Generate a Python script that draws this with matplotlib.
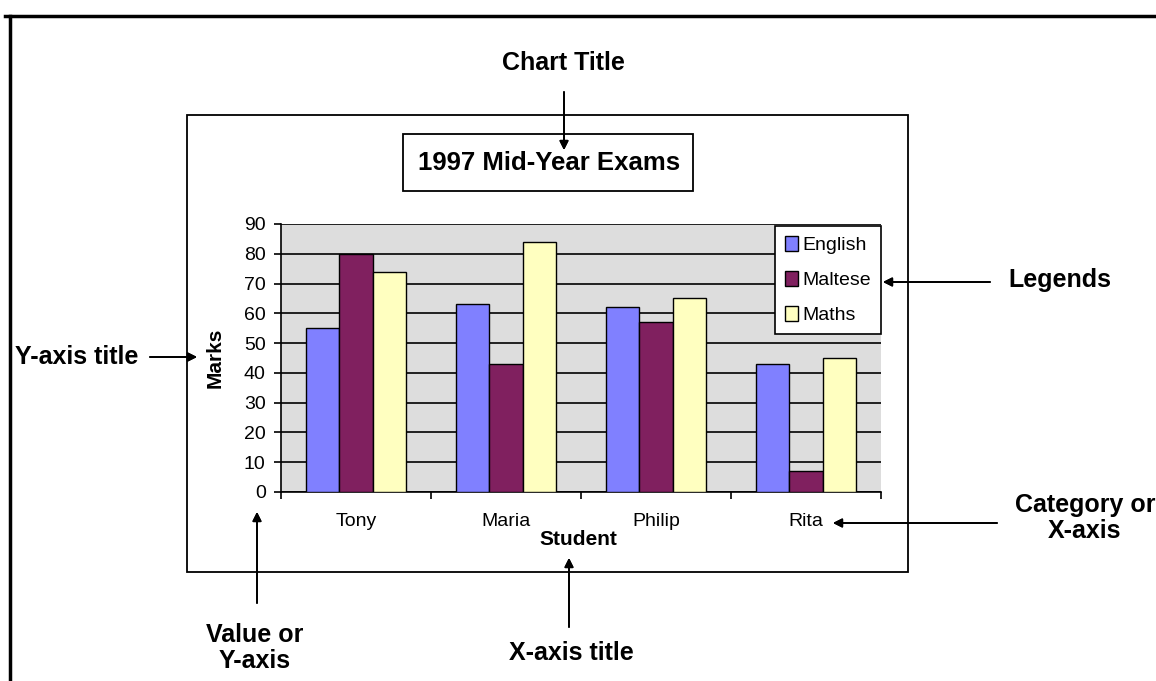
import matplotlib
matplotlib.use("Agg")
import matplotlib.pyplot as plt
from matplotlib.patches import Rectangle
from matplotlib.lines import Line2D
import numpy as np

plt.rcParams['font.family'] = ['Liberation Sans', 'DejaVu Sans']

# ---- data ----
students = ["Tony", "Maria", "Philip", "Rita"]
subjects = ["English", "Maltese", "Maths"]
english = [55, 63, 62, 43]
maltese = [80, 43, 57, 7]
maths = [74, 84, 65, 45]
colors = ["#8080FF", "#80205F", "#FFFFC0"]
y_ticks = [0, 10, 20, 30, 40, 50, 60, 70, 80, 90]
chart_title = "1997 Mid-Year Exams"
y_title = "Marks"
x_title = "Student"

W, H = 1156, 681
fig = plt.figure(figsize=(W / 100, H / 100), dpi=100)


def ff(x, y):
    """pixel (from top-left) -> figure fraction"""
    return (x / W, 1 - y / H)


# ---- axes ----
L, R, T, B = 281, 881, 224, 492
ax = fig.add_axes([L / W, 1 - B / H, (R - L) / W, (B - T) / H])
ax.set_facecolor("#DDDDDD")

x = np.arange(len(students))
bw = 1 / 4.5
series = [english, maltese, maths]
for i, (vals, c, lab) in enumerate(zip(series, colors, subjects)):
    ax.bar(x + (i - 1) * bw, vals, width=bw, color=c, edgecolor="black",
           linewidth=1.0, label=lab, zorder=3)

ax.set_xlim(-0.5, len(students) - 0.5)
ax.set_ylim(0, 90)
ax.set_yticks(y_ticks)
ax.yaxis.grid(True, color="black", linewidth=1.2, zorder=1)
ax.set_axisbelow(True)

ax.set_xticks(np.arange(len(students) + 1) - 0.5)
ax.set_xticklabels([])
ax.set_xticks(x, minor=True)
ax.set_xticklabels(students, minor=True)
ax.tick_params(axis="x", which="major", direction="out", length=5, width=1.2, color="black")
ax.tick_params(axis="x", which="minor", length=0, pad=15, labelsize=14)
ax.tick_params(axis="y", direction="out", length=5, width=1.2, pad=6, labelsize=14)

for s in ["top", "right"]:
    ax.spines[s].set_visible(False)
for s in ["left", "bottom"]:
    ax.spines[s].set_linewidth(1.2)
    ax.spines[s].set_color("black")

ax.set_ylabel(y_title, fontsize=15, fontweight="bold")
ax.yaxis.set_label_coords((225 - L) / (R - L), (B - 358) / (B - T))
ax.set_xlabel(x_title, fontsize=15, fontweight="bold")
ax.xaxis.set_label_coords((578 - L) / (R - L), (B - 530) / (B - T))

leg = ax.legend(loc="upper right", bbox_to_anchor=ff(881, 226),
                bbox_transform=fig.transFigure, borderaxespad=0,
                fancybox=False, edgecolor="black", framealpha=1, fontsize=14,
                handlelength=0.65, handleheight=0.85, labelspacing=0.85,
                borderpad=0.5, handletextpad=0.25)
leg.get_frame().set_linewidth(1.2)
leg.set_zorder(5)

# ---- chart title box ----
fig.text(*ff(549, 163), chart_title, ha="center", va="center",
         fontsize=18.5, fontweight="bold")
fig.add_artist(Rectangle(ff(403, 191), (693 - 403) / W, (191 - 134) / H,
                         transform=fig.transFigure, fill=False,
                         edgecolor="black", linewidth=1.3))

# ---- chart area box ----
fig.add_artist(Rectangle(ff(187, 572), (908 - 187) / W, (572 - 115) / H,
                         transform=fig.transFigure, fill=False,
                         edgecolor="black", linewidth=1.3, zorder=0))

# ---- outer frame lines ----
fig.add_artist(Line2D([ff(5, 16)[0], 1], [ff(5, 16)[1]] * 2,
                      transform=fig.transFigure, color="black", linewidth=2.5))
fig.add_artist(Line2D([ff(10, 16)[0]] * 2, [ff(10, 16)[1], 0],
                      transform=fig.transFigure, color="black", linewidth=2.5))


# ---- annotations ----
def arrow(tail, tip):
    fig.add_artist(plt.annotate("", xy=ff(*tip), xytext=ff(*tail),
                                xycoords="figure fraction", textcoords="figure fraction",
                                arrowprops=dict(arrowstyle="-|>", color="black", lw=1.3,
                                                mutation_scale=13, shrinkA=0, shrinkB=0)))


afs = 18
fig.text(*ff(563, 63), "Chart Title", ha="center", va="center", fontsize=afs, fontweight="bold")
arrow((564, 92), (564, 150))

fig.text(*ff(77, 357), "Y-axis title", ha="center", va="center", fontsize=afs, fontweight="bold")
arrow((150, 357), (197, 357))

fig.text(*ff(1060, 280), "Legends", ha="center", va="center", fontsize=afs, fontweight="bold")
arrow((990, 282), (883, 282))

fig.text(*ff(1085, 518), "Category or\nX-axis", ha="center", va="center", fontsize=afs,
         fontweight="bold", linespacing=1.1)
arrow((997, 523), (833, 523))

fig.text(*ff(255, 648), "Value or\nY-axis", ha="center", va="center", fontsize=afs,
         fontweight="bold", linespacing=1.1)
arrow((257, 603), (257, 512))

fig.text(*ff(571, 653), "X-axis title", ha="center", va="center", fontsize=afs, fontweight="bold")
arrow((569, 627), (569, 558))

fig.savefig("out.png", dpi=100)
